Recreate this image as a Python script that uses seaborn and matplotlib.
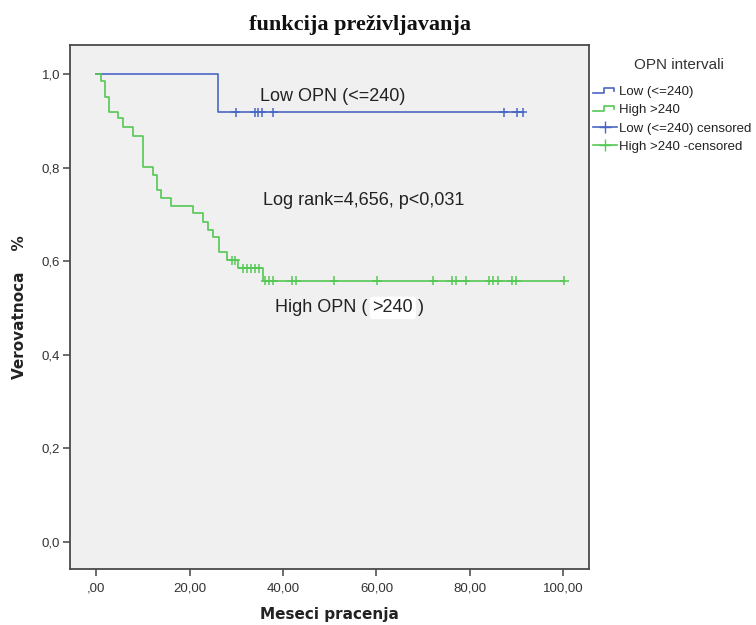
import numpy as np
import pandas as pd
import matplotlib
matplotlib.use("Agg")
import matplotlib.pyplot as plt
from matplotlib.lines import Line2D
from matplotlib.legend_handler import HandlerBase
import seaborn as sns

# ---------------- data ----------------
groups = ["Low (<=240)", "High >240"]

low_event_times = [26.0]
low_event_surv = [0.918]
low_censor_times = [29.9, 33.9, 34.7, 35.4, 37.9, 87.2, 90.0, 91.3]

high_event_times = [1.0, 1.9, 2.7, 4.7, 5.7, 7.8, 10.0, 12.1, 13.0, 13.8,
                    16.0, 20.8, 22.9, 24.0, 25.0, 26.2, 28.1, 30.4, 35.8]
high_event_surv = [0.985, 0.951, 0.919, 0.905, 0.887, 0.868, 0.802, 0.784,
                   0.752, 0.734, 0.718, 0.702, 0.684, 0.667, 0.651, 0.620,
                   0.602, 0.585, 0.558]
high_censor_times = [29.0, 29.7, 31.4, 32.2, 33.1, 33.9, 34.8, 36.2, 36.9,
                     37.9, 41.9, 42.8, 51.0, 60.1, 72.2, 76.1, 77.0, 79.1,
                     84.2, 85.0, 86.0, 89.0, 89.9, 100.2]

x_ticks = [0, 20, 40, 60, 80, 100]
x_tick_labels = [",00", "20,00", "40,00", "60,00", "80,00", "100,00"]
y_ticks = [0.0, 0.2, 0.4, 0.6, 0.8, 1.0]
y_tick_labels = ["0,0", "0,2", "0,4", "0,6", "0,8", "1,0"]

legend_labels = ["Low (<=240)", "High >240", "Low (<=240) censored",
                 "High >240 -censored"]

title = "funkcija preživljavanja"
xlabel = "Meseci pracenja"
ylabel = "Verovatnoca    %"
legend_title = "OPN intervali"

# ---------------- build tables ----------------
def step_table(group, ev_t, ev_s, cens_t):
    t = [0.0] + list(ev_t) + [max(cens_t)]
    s = [1.0] + list(ev_s) + [ev_s[-1]]
    return pd.DataFrame({"t": t, "S": s, "group": group})

def censor_table(group, ev_t, ev_s, cens_t):
    ev_t = np.asarray(ev_t)
    ev_s = np.asarray(ev_s)
    vals = []
    for c in cens_t:
        idx = np.searchsorted(ev_t, c, side="right") - 1
        vals.append(1.0 if idx < 0 else ev_s[idx])
    return pd.DataFrame({"t": cens_t, "S": vals, "group": group})

steps = pd.concat([
    step_table(groups[0], low_event_times, low_event_surv, low_censor_times),
    step_table(groups[1], high_event_times, high_event_surv, high_censor_times),
], ignore_index=True)
cens = pd.concat([
    censor_table(groups[0], low_event_times, low_event_surv, low_censor_times),
    censor_table(groups[1], high_event_times, high_event_surv, high_censor_times),
], ignore_index=True)

# ---------------- style ----------------
plt.rcParams["font.family"] = ["Liberation Sans", "DejaVu Sans"]
blue = "#4A66C4"
green = "#55C855"
palette = {groups[0]: blue, groups[1]: green}

fig = plt.figure(figsize=(7.56, 6.25), dpi=100)
ax = fig.add_axes([70 / 756, 1 - 569 / 625, 519 / 756, 524 / 625])
ax.set_facecolor("#F0F0F0")

for g in groups:
    sub = steps[steps.group == g]
    sns.lineplot(data=sub, x="t", y="S", color=palette[g], ax=ax,
                 drawstyle="steps-post", estimator=None, sort=False,
                 linewidth=1.2, legend=False)
sns.scatterplot(data=cens, x="t", y="S", hue="group", palette=palette,
                marker="+", s=45, linewidth=1.1, ax=ax, legend=False,
                zorder=3)

ax.set_xlim(-5.6, 105.5)
ax.set_ylim(-0.058, 1.062)
ax.set_xticks(x_ticks)
ax.set_xticklabels(x_tick_labels)
ax.set_yticks(y_ticks)
ax.set_yticklabels(y_tick_labels)
ax.tick_params(axis="both", direction="out", length=5, width=1.1,
               color="#444444", labelsize=9.5, labelcolor="#333333")
ax.tick_params(axis="x", pad=5)
ax.tick_params(axis="y", pad=2)
ax.set_xlabel("")
ax.set_ylabel("")
for sp in ax.spines.values():
    sp.set_color("#4A4A4A")
    sp.set_linewidth(1.3)

# annotations inside plot
txt_kw = dict(fontsize=13, color="#222222", va="center", ha="left")
ax.text(35.1, 0.951, "Low OPN (<=240)", **txt_kw)
ax.text(35.7, 0.729, "Log rank=4,656, p<0,031", **txt_kw)
t1 = ax.text(38.3, 0.50, "High OPN ( ", **txt_kw)
t2 = ax.annotate(">240", xy=(1, 0), xycoords=t1, va="bottom", ha="left",
                 fontsize=13, color="#222222",
                 bbox=dict(boxstyle="round,pad=0.15", fc="white", ec="none"))
ax.annotate(" )", xy=(1, 0), xycoords=t2, va="bottom", ha="left",
            fontsize=13, color="#222222")

# titles / labels
fig.text(360 / 756, 1 - 25 / 625, title, ha="center", va="center",
         fontsize=16, fontweight="bold", family="Liberation Serif",
         color="#111111")
fig.text(329 / 756, 1 - 614 / 625, xlabel, ha="center", va="center",
         fontsize=11, fontweight="bold", family="DejaVu Sans", color="#222222")
fig.text(20 / 756, 1 - 307 / 625, ylabel, ha="center", va="center",
         rotation=90, fontsize=11, fontweight="bold", family="DejaVu Sans",
         color="#222222")

# legend
class StepHandler(HandlerBase):
    def create_artists(self, legend, orig_handle, xdescent, ydescent,
                       width, height, fontsize, trans):
        x0 = -xdescent
        y0 = -ydescent
        xs = [x0, x0 + 0.45 * width, x0 + 0.45 * width, x0 + 0.9 * width,
              x0 + 0.9 * width]
        ys = [y0 + 0.25 * height, y0 + 0.25 * height, y0 + 0.75 * height,
              y0 + 0.75 * height, y0 + 0.45 * height]
        ln = Line2D(xs, ys, color=orig_handle.get_color(),
                    lw=orig_handle.get_linewidth(), transform=trans)
        return [ln]

step_low = Line2D([], [], color=blue, lw=1.2)
step_high = Line2D([], [], color=green, lw=1.2)
handles = [
    step_low,
    step_high,
    Line2D([], [], color=blue, lw=1.2, marker="+", markersize=8),
    Line2D([], [], color=green, lw=1.2, marker="+", markersize=8),
]
leg = fig.legend(handles, legend_labels,
                 handler_map={step_low: StepHandler(), step_high: StepHandler()},
                 loc="upper left", bbox_to_anchor=(593 / 756, 1 - 86 / 625),
                 frameon=False, fontsize=9.5,
                 handlelength=1.8, handletextpad=0.15, labelspacing=0.45,
                 borderpad=0, borderaxespad=0)
for t in leg.get_texts():
    t.set_color("#222222")
fig.text(679 / 756, 1 - 65 / 625, legend_title, ha="center", va="center",
         fontsize=11, color="#333333")

fig.savefig("out.png", dpi=100, facecolor="white")
